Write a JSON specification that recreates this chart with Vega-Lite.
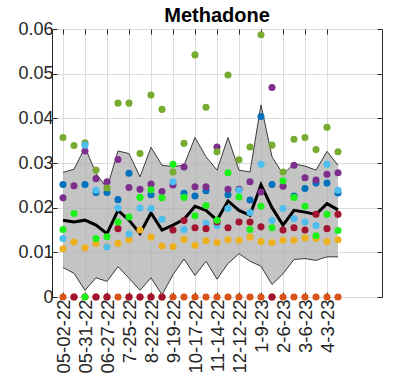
{
  "$schema": "https://vega.github.io/schema/vega-lite/v6.json",
  "width": 330,
  "height": 268,
  "autosize": "none",
  "padding": {"left": 52, "top": 29, "right": 16, "bottom": 93},
  "background": "white",
  "config": {
    "view": {"stroke": "#262626", "strokeWidth": 1},
    "font": "Liberation Sans",
    "axis": {"labelFont": "Liberation Sans", "labelColor": "#262626", "tickColor": "#262626", "gridColor": "#dcdcdc", "domain": false}
  },
  "title": {"text": "Methadone", "fontSize": 20, "fontWeight": "bold", "font": "Liberation Sans", "color": "#000000", "offset": 6, "dy": 12, "anchor": "middle"},
  "datasets": {
    "stats": [
      {"i": 0, "mean": 0.0172, "lo": 0.0066, "hi": 0.0279},
      {"i": 1, "mean": 0.0168, "lo": 0.0053, "hi": 0.0286},
      {"i": 2, "mean": 0.0172, "lo": 0.0015, "hi": 0.0335},
      {"i": 3, "mean": 0.0161, "lo": 0.0043, "hi": 0.0277},
      {"i": 4, "mean": 0.0142, "lo": 0.0035, "hi": 0.0243},
      {"i": 5, "mean": 0.0194, "lo": 0.0068, "hi": 0.0327},
      {"i": 6, "mean": 0.0172, "lo": 0.0042, "hi": 0.0321},
      {"i": 7, "mean": 0.0142, "lo": 0.0015, "hi": 0.0269},
      {"i": 8, "mean": 0.0188, "lo": 0.0043, "hi": 0.0335},
      {"i": 9, "mean": 0.0150, "lo": 0.0005, "hi": 0.0295},
      {"i": 10, "mean": 0.0161, "lo": 0.0050, "hi": 0.0292},
      {"i": 11, "mean": 0.0174, "lo": 0.0085, "hi": 0.0295},
      {"i": 12, "mean": 0.0203, "lo": 0.0048, "hi": 0.0357},
      {"i": 13, "mean": 0.0194, "lo": 0.0080, "hi": 0.0314},
      {"i": 14, "mean": 0.0172, "lo": 0.0040, "hi": 0.0284},
      {"i": 15, "mean": 0.0215, "lo": 0.0075, "hi": 0.0357},
      {"i": 16, "mean": 0.0194, "lo": 0.0097, "hi": 0.0284},
      {"i": 17, "mean": 0.0183, "lo": 0.0080, "hi": 0.0280},
      {"i": 18, "mean": 0.0251, "lo": 0.0069, "hi": 0.0430},
      {"i": 19, "mean": 0.0200, "lo": 0.0028, "hi": 0.0314},
      {"i": 20, "mean": 0.0161, "lo": 0.0052, "hi": 0.0275},
      {"i": 21, "mean": 0.0194, "lo": 0.0084, "hi": 0.0298},
      {"i": 22, "mean": 0.0190, "lo": 0.0086, "hi": 0.0293},
      {"i": 23, "mean": 0.0185, "lo": 0.0082, "hi": 0.0284},
      {"i": 24, "mean": 0.0209, "lo": 0.0090, "hi": 0.0326},
      {"i": 25, "mean": 0.0195, "lo": 0.0090, "hi": 0.0295}
    ],
    "sites": [
      {"i": 0, "site": "B", "v": 0}, {"i": 1, "site": "B", "v": 0}, {"i": 2, "site": "B", "v": 0}, {"i": 3, "site": "B", "v": 0},
      {"i": 4, "site": "B", "v": 0}, {"i": 5, "site": "B", "v": 0}, {"i": 6, "site": "B", "v": 0}, {"i": 7, "site": "B", "v": 0},
      {"i": 8, "site": "B", "v": 0}, {"i": 9, "site": "B", "v": 0}, {"i": 10, "site": "B", "v": 0}, {"i": 11, "site": "B", "v": 0},
      {"i": 12, "site": "B", "v": 0}, {"i": 13, "site": "B", "v": 0}, {"i": 14, "site": "B", "v": 0}, {"i": 15, "site": "B", "v": 0},
      {"i": 16, "site": "B", "v": 0}, {"i": 17, "site": "B", "v": 0}, {"i": 18, "site": "B", "v": 0}, {"i": 19, "site": "B", "v": 0},
      {"i": 20, "site": "B", "v": 0}, {"i": 21, "site": "B", "v": 0}, {"i": 22, "site": "B", "v": 0}, {"i": 23, "site": "B", "v": 0},
      {"i": 24, "site": "B", "v": 0}, {"i": 25, "site": "B", "v": 0},

      {"i": 0, "site": "A", "v": 0.0252}, {"i": 2, "site": "A", "v": 0.0252}, {"i": 3, "site": "A", "v": 0.0234}, {"i": 4, "site": "A", "v": 0.0234},
      {"i": 5, "site": "A", "v": 0.0218}, {"i": 6, "site": "A", "v": 0.0277}, {"i": 8, "site": "A", "v": 0.0229}, {"i": 11, "site": "A", "v": 0.0232},
      {"i": 12, "site": "A", "v": 0.0226}, {"i": 13, "site": "A", "v": 0.0238}, {"i": 15, "site": "A", "v": 0.0229}, {"i": 17, "site": "A", "v": 0.0217},
      {"i": 18, "site": "A", "v": 0.0404}, {"i": 19, "site": "A", "v": 0.0252}, {"i": 21, "site": "A", "v": 0.0226}, {"i": 22, "site": "A", "v": 0.0243},
      {"i": 23, "site": "A", "v": 0.0255}, {"i": 24, "site": "A", "v": 0.0255}, {"i": 25, "site": "A", "v": 0.0233},

      {"i": 0, "site": "C", "v": 0.0108}, {"i": 1, "site": "C", "v": 0.0123}, {"i": 2, "site": "C", "v": 0.0110}, {"i": 3, "site": "C", "v": 0.0120},
      {"i": 4, "site": "C", "v": 0.0113}, {"i": 5, "site": "C", "v": 0.0120}, {"i": 6, "site": "C", "v": 0.0128}, {"i": 7, "site": "C", "v": 0.0150},
      {"i": 8, "site": "C", "v": 0.0134}, {"i": 9, "site": "C", "v": 0.0114}, {"i": 10, "site": "C", "v": 0.0113}, {"i": 11, "site": "C", "v": 0.0129},
      {"i": 12, "site": "C", "v": 0.0116}, {"i": 13, "site": "C", "v": 0.0126}, {"i": 14, "site": "C", "v": 0.0122}, {"i": 15, "site": "C", "v": 0.0128},
      {"i": 16, "site": "C", "v": 0.0127}, {"i": 17, "site": "C", "v": 0.0134}, {"i": 18, "site": "C", "v": 0.0124}, {"i": 19, "site": "C", "v": 0.0122},
      {"i": 20, "site": "C", "v": 0.0127}, {"i": 21, "site": "C", "v": 0.0127}, {"i": 22, "site": "C", "v": 0.0132}, {"i": 23, "site": "C", "v": 0.0131},
      {"i": 24, "site": "C", "v": 0.0124}, {"i": 25, "site": "C", "v": 0.0128},

      {"i": 0, "site": "D", "v": 0.0222}, {"i": 1, "site": "D", "v": 0.0249}, {"i": 2, "site": "D", "v": 0.0327}, {"i": 3, "site": "D", "v": 0.0265},
      {"i": 4, "site": "D", "v": 0.0258}, {"i": 5, "site": "D", "v": 0.0308}, {"i": 6, "site": "D", "v": 0.0245}, {"i": 7, "site": "D", "v": 0.0241},
      {"i": 8, "site": "D", "v": 0.0253}, {"i": 9, "site": "D", "v": 0.0236}, {"i": 10, "site": "D", "v": 0.0251}, {"i": 11, "site": "D", "v": 0.0291},
      {"i": 12, "site": "D", "v": 0.0247}, {"i": 13, "site": "D", "v": 0.0247}, {"i": 14, "site": "D", "v": 0.0336}, {"i": 15, "site": "D", "v": 0.0241},
      {"i": 16, "site": "D", "v": 0.0241}, {"i": 17, "site": "D", "v": 0.0258}, {"i": 18, "site": "D", "v": 0.0235}, {"i": 19, "site": "D", "v": 0.0469},
      {"i": 20, "site": "D", "v": 0.0248}, {"i": 21, "site": "D", "v": 0.0295}, {"i": 22, "site": "D", "v": 0.0267}, {"i": 23, "site": "D", "v": 0.0262},
      {"i": 24, "site": "D", "v": 0.0275}, {"i": 25, "site": "D", "v": 0.0278},

      {"i": 0, "site": "E", "v": 0.0357}, {"i": 1, "site": "E", "v": 0.0339}, {"i": 2, "site": "E", "v": 0.0345}, {"i": 3, "site": "E", "v": 0.0284},
      {"i": 4, "site": "E", "v": 0.0244}, {"i": 5, "site": "E", "v": 0.0434}, {"i": 6, "site": "E", "v": 0.0434}, {"i": 7, "site": "E", "v": 0.0321},
      {"i": 8, "site": "E", "v": 0.0452}, {"i": 9, "site": "E", "v": 0.0420}, {"i": 10, "site": "E", "v": 0.0280}, {"i": 11, "site": "E", "v": 0.0344},
      {"i": 12, "site": "E", "v": 0.0542}, {"i": 13, "site": "E", "v": 0.0425}, {"i": 14, "site": "E", "v": 0.0325}, {"i": 15, "site": "E", "v": 0.0497},
      {"i": 16, "site": "E", "v": 0.0307}, {"i": 17, "site": "E", "v": 0.0336}, {"i": 18, "site": "E", "v": 0.0587}, {"i": 19, "site": "E", "v": 0.0340},
      {"i": 20, "site": "E", "v": 0.0280}, {"i": 21, "site": "E", "v": 0.0353}, {"i": 22, "site": "E", "v": 0.0357}, {"i": 23, "site": "E", "v": 0.0330},
      {"i": 24, "site": "E", "v": 0.0380}, {"i": 25, "site": "E", "v": 0.0325},

      {"i": 0, "site": "F", "v": 0.0131}, {"i": 2, "site": "F", "v": 0.0340}, {"i": 3, "site": "F", "v": 0.0239}, {"i": 4, "site": "F", "v": 0.0112},
      {"i": 5, "site": "F", "v": 0.0199}, {"i": 6, "site": "F", "v": 0.0141}, {"i": 7, "site": "F", "v": 0.0199}, {"i": 8, "site": "F", "v": 0.0198},
      {"i": 9, "site": "F", "v": 0.0174}, {"i": 10, "site": "F", "v": 0.0258}, {"i": 11, "site": "F", "v": 0.0151}, {"i": 13, "site": "F", "v": 0.0165},
      {"i": 14, "site": "F", "v": 0.0160}, {"i": 15, "site": "F", "v": 0.0198}, {"i": 16, "site": "F", "v": 0.0239}, {"i": 17, "site": "F", "v": 0.0189},
      {"i": 18, "site": "F", "v": 0.0297}, {"i": 19, "site": "F", "v": 0.0171}, {"i": 20, "site": "F", "v": 0.0198}, {"i": 21, "site": "F", "v": 0.0175},
      {"i": 22, "site": "F", "v": 0.0168}, {"i": 23, "site": "F", "v": 0.0160}, {"i": 24, "site": "F", "v": 0.0297}, {"i": 25, "site": "F", "v": 0.0239},

      {"i": 1, "site": "G", "v": 0}, {"i": 3, "site": "G", "v": 0}, {"i": 4, "site": "G", "v": 0}, {"i": 5, "site": "G", "v": 0.0153},
      {"i": 6, "site": "G", "v": 0}, {"i": 7, "site": "G", "v": 0}, {"i": 8, "site": "G", "v": 0}, {"i": 9, "site": "G", "v": 0},
      {"i": 10, "site": "G", "v": 0.0150}, {"i": 11, "site": "G", "v": 0.0171}, {"i": 12, "site": "G", "v": 0.0155}, {"i": 13, "site": "G", "v": 0.0153},
      {"i": 14, "site": "G", "v": 0.0168}, {"i": 15, "site": "G", "v": 0.0155}, {"i": 16, "site": "G", "v": 0.0168}, {"i": 17, "site": "G", "v": 0.0168},
      {"i": 18, "site": "G", "v": 0.0157}, {"i": 19, "site": "G", "v": 0}, {"i": 20, "site": "G", "v": 0.0150}, {"i": 21, "site": "G", "v": 0.0155},
      {"i": 22, "site": "G", "v": 0.0150}, {"i": 23, "site": "G", "v": 0.0185}, {"i": 24, "site": "G", "v": 0.0153}, {"i": 25, "site": "G", "v": 0.0185},

      {"i": 0, "site": "H", "v": 0.0151}, {"i": 1, "site": "H", "v": 0.0187}, {"i": 2, "site": "H", "v": 0}, {"i": 3, "site": "H", "v": 0.0131},
      {"i": 4, "site": "H", "v": 0.0135}, {"i": 5, "site": "H", "v": 0.0168}, {"i": 6, "site": "H", "v": 0.0179}, {"i": 7, "site": "H", "v": 0.0223},
      {"i": 8, "site": "H", "v": 0.0240}, {"i": 9, "site": "H", "v": 0.0222}, {"i": 10, "site": "H", "v": 0.0297}, {"i": 11, "site": "H", "v": 0.0223},
      {"i": 12, "site": "H", "v": 0.0182}, {"i": 13, "site": "H", "v": 0.0205}, {"i": 14, "site": "H", "v": 0.0172}, {"i": 15, "site": "H", "v": 0.0278},
      {"i": 16, "site": "H", "v": 0.0224}, {"i": 17, "site": "H", "v": 0.0151}, {"i": 18, "site": "H", "v": 0.0203}, {"i": 19, "site": "H", "v": 0.0155},
      {"i": 20, "site": "H", "v": 0.0260}, {"i": 21, "site": "H", "v": 0.0223}, {"i": 22, "site": "H", "v": 0.0203}, {"i": 23, "site": "H", "v": 0.0137},
      {"i": 24, "site": "H", "v": 0.0185}, {"i": 25, "site": "H", "v": 0.0149}
    ]
  },
  "resolve": {"axis": {"x": "independent", "y": "independent"}},
  "layer": [
    {
      "data": {"name": "stats"},
      "mark": {"type": "area", "color": "#b0b0b0", "opacity": 0.75},
      "encoding": {
        "x": {"field": "i", "type": "quantitative", "scale": {"domain": [-1, 29], "nice": false, "zero": false},
          "axis": {"orient": "bottom", "title": null, "values": [0, 2, 4, 6, 8, 10, 12, 14, 16, 18, 20, 22, 24],
            "labelExpr": "['05-02-22','','05-31-22','','06-27-22','','7-25-22','','8-22-22','','9-19-22','','10-17-22','','11-14-22','','12-12-22','','1-9-23','','2-6-23','','3-6-23','','4-3-23'][datum.value]",
            "labelAngle": 270, "labelFontSize": 18.5, "labelPadding": 7, "tickSize": -5, "grid": true}},
        "y": {"field": "hi", "type": "quantitative", "scale": {"domain": [0, 0.06], "nice": false},
          "axis": {"orient": "left", "title": null, "values": [0, 0.01, 0.02, 0.03, 0.04, 0.05, 0.06], "format": ".2~f",
            "labelFontSize": 18, "labelPadding": 4, "tickSize": -5, "grid": true}},
        "y2": {"field": "lo"}
      }
    },
    {
      "data": {"name": "stats"},
      "mark": {"type": "line", "color": "#3a3a3a", "strokeWidth": 1},
      "encoding": {
        "x": {"field": "i", "type": "quantitative",
          "axis": {"orient": "top", "title": null, "values": [0, 2, 4, 6, 8, 10, 12, 14, 16, 18, 20, 22, 24], "labels": false, "tickSize": -5, "grid": false}},
        "y": {"field": "hi", "type": "quantitative",
          "axis": {"orient": "right", "title": null, "values": [0, 0.01, 0.02, 0.03, 0.04, 0.05, 0.06], "labels": false, "tickSize": -5, "grid": false}}
      }
    },
    {
      "data": {"name": "stats"},
      "mark": {"type": "line", "color": "#3a3a3a", "strokeWidth": 1},
      "encoding": {
        "x": {"field": "i", "type": "quantitative", "axis": null},
        "y": {"field": "lo", "type": "quantitative", "axis": null}
      }
    },
    {
      "data": {"name": "stats"},
      "mark": {"type": "line", "color": "#000000", "strokeWidth": 3},
      "encoding": {
        "x": {"field": "i", "type": "quantitative", "axis": null},
        "y": {"field": "mean", "type": "quantitative", "axis": null}
      }
    },
    {
      "data": {"name": "sites"},
      "mark": {"type": "point", "filled": true, "opacity": 1, "size": 50, "clip": false},
      "encoding": {
        "x": {"field": "i", "type": "quantitative", "axis": null},
        "y": {"field": "v", "type": "quantitative", "axis": null},
        "color": {"field": "site", "type": "nominal", "legend": null,
          "scale": {"domain": ["A", "B", "C", "D", "E", "F", "G", "H"],
            "range": ["#0072BD", "#D95319", "#EDB120", "#7E2F8E", "#77AC30", "#4DBEEE", "#A2142F", "#1AF01A"]}}
      }
    }
  ]
}
